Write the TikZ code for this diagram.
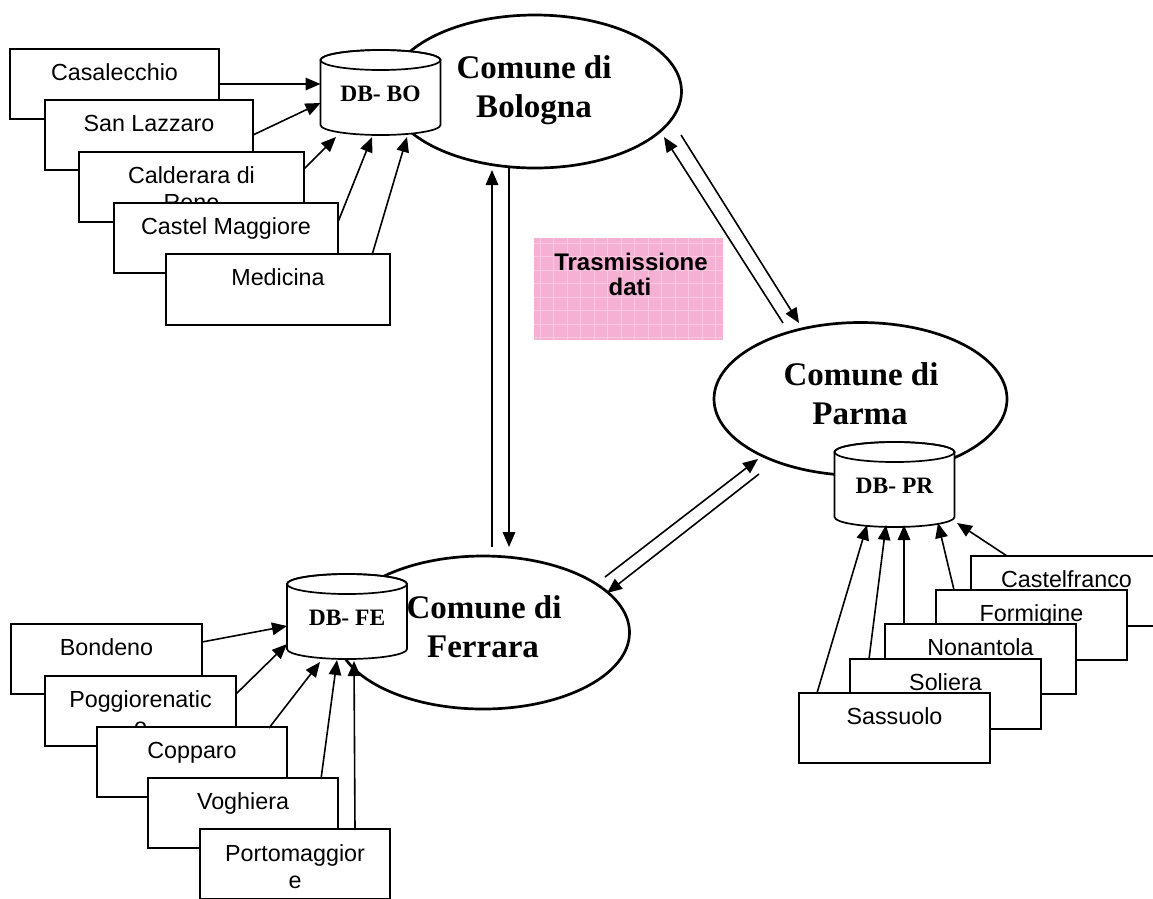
\documentclass[tikz,border=0pt]{standalone}
\usepackage{fontspec}
\setmainfont{Liberation Serif}
\setsansfont{Liberation Sans}
\usetikzlibrary{arrows.meta,calc,shapes.geometric}
\definecolor{pinkfill}{RGB}{246,176,211}
\definecolor{pinkline}{RGB}{250,200,225}
\tikzset{
  comune/.style={draw, line width=2.7pt, ellipse, minimum width=293pt, minimum height=153pt, inner sep=0pt, outer sep=0pt, fill=white},
  ctxt/.style={font=\bfseries\fontsize{33}{39}\selectfont, anchor=base, inner sep=0pt},
  dbbox/.style={minimum width=120pt, minimum height=85pt, inner sep=0pt, outer sep=0pt},
  dbline/.style={line width=1.7pt},
  dbtxt/.style={font=\bfseries\fontsize{23.5}{27}\selectfont, inner sep=0pt},
  mbox/.style={draw, fill=white, line width=1.3pt, anchor=north west, minimum height=70pt, inner sep=0pt, outer sep=0pt},
  btxt/.style={font=\sffamily\fontsize{23.3}{27}\selectfont, anchor=base, inner sep=0pt},
  arr/.style={-{Triangle[length=15pt,width=12.5pt]}, line width=1.6pt},
  trbox/.style={fill=pinkfill, anchor=north west, minimum width=189pt, minimum height=102pt, inner sep=0pt, outer sep=0pt},
  trtxt/.style={font=\sffamily\bfseries\fontsize{24}{26}\selectfont, anchor=base, inner sep=0pt},
}
\newcommand\dbcyl[3]{%
  \node[dbbox] (#1) at (#2) {};
  \path[dbline, draw, fill=white] ($(#1.north west)+(0,10)$) -- ($(#1.south west)+(0,-10)$)
     arc[start angle=180, end angle=0, x radius=60, y radius=10]
     -- ($(#1.north east)+(0,10)$)
     arc[start angle=0, end angle=-180, x radius=60, y radius=10] -- cycle;
  \draw[dbline] ($(#1.north)+(0,10)$) ellipse[x radius=60, y radius=10];
  \node[dbtxt] (#1t) at ($(#1.center)+(0,1.5)$) {#3};
}
\begin{document}
\begin{tikzpicture}[x=1pt,y=-1pt]
\useasboundingbox (0,0) rectangle (1153,898);
\clip (0,0) rectangle (1153,898);
\fill[white] (0,0) rectangle (1153,898);

% Trasmissione dati
\node[trbox] (tr) at (534,238) {};
\begin{scope}
\clip (tr.north west) rectangle (tr.south east);
\draw[pinkline, line width=0.9pt] (tr.south west) grid[step=13.5pt] (tr.north east);
\end{scope}
\node[trtxt] (tr1) at ($(tr.north)+(2.5,32)$) {Trasmissione};
\node[trtxt] (tr2) at ($(tr.north)+(1.5,57)$) {dati};

% Comuni
\node[comune] (bo) at (535,91.5) {};
\node[ctxt] (bot1) at (534,78) {Comune di};
\node[ctxt] (bot2) at (534,117) {Bologna};
\node[comune] (fe) at (483,632.5) {};
\node[ctxt] (fet1) at (484,618) {Comune di};
\node[ctxt] (fet2) at (483,657) {Ferrara};
\node[comune] (pr) at (860.5,399) {};
\node[ctxt] (prt1) at (861,385) {Comune di};
\node[ctxt] (prt2) at (860,424) {Parma};

% databases
\dbcyl{dbbo}{380.5,92.5}{DB- BO}
\dbcyl{dbfe}{347,616.5}{DB- FE}
\dbcyl{dbpr}{894.5,484.5}{DB- PR}

% Bologna boxes
\node[mbox, line width=2.3pt, minimum width=209pt] (cas) at (10,49) {};
\node[btxt] (cast) at ($(cas.north)+(0,31)$) {Casalecchio};
\node[mbox, minimum width=208pt] (sla) at (45,100) {};
\node[btxt] (slat) at ($(sla.north)+(0,31)$) {San Lazzaro};
\node[mbox, minimum width=225pt] (cal) at (79,152) {};
\node[btxt] (calt1) at ($(cal.north)+(0,31)$) {Calderara di};
\node[btxt] (calt2) at ($(cal.north)+(0,58)$) {Reno};
\node[mbox, minimum width=224pt] (cma) at (114,203) {};
\node[btxt] (cmat) at ($(cma.north)+(0,31)$) {Castel Maggiore};
\node[mbox, minimum width=224pt, minimum height=71pt] (med) at (166,254) {};
\node[btxt] (medt) at ($(med.north)+(0,31)$) {Medicina};

% Ferrara boxes
\node[mbox, minimum width=191pt] (bon) at (11,624) {};
\node[btxt] (bont) at ($(bon.north)+(0,31)$) {Bondeno};
\node[mbox, minimum width=191pt] (pog) at (45,676) {};
\node[btxt] (pogt1) at ($(pog.north)+(0,31)$) {Poggiorenatic};
\node[btxt] (pogt2) at ($(pog.north)+(0,58)$) {o};
\node[mbox, minimum width=190pt] (cop) at (97,727) {};
\node[btxt] (copt) at ($(cop.north)+(0,31)$) {Copparo};
\node[mbox, minimum width=190pt] (vog) at (148,778) {};
\node[btxt] (vogt) at ($(vog.north)+(0,31)$) {Voghiera};
\node[mbox, minimum width=190pt] (por) at (200,829) {};
\node[btxt] (port1) at ($(por.north)+(0,32)$) {Portomaggior};
\node[btxt] (port2) at ($(por.north)+(0,59)$) {e};

% Parma boxes
\node[mbox, minimum width=191pt] (cfr) at (971,556) {};
\node[btxt] (cfrt) at ($(cfr.north)+(0,31)$) {Castelfranco};
\node[mbox, minimum width=191pt] (frm) at (936,590) {};
\node[btxt] (frmt) at ($(frm.north)+(0,31)$) {Formigine};
\node[mbox, minimum width=191pt] (non) at (885,624) {};
\node[btxt] (nont) at ($(non.north)+(0,31)$) {Nonantola};
\node[mbox, minimum width=191pt] (sol) at (850,659) {};
\node[btxt] (solt) at ($(sol.north)+(0,31)$) {Soliera};
\node[mbox, minimum width=191pt] (sas) at (799,693) {};
\node[btxt] (sast) at ($(sas.north)+(0,31)$) {Sassuolo};

% arrows into DB-BO
\draw[arr] (cas.east) -- ($(dbbo.west)+(0,-8.5)$);
\draw[arr] (sla.east) -- ($(dbbo.west)+(0,10.5)$);
\draw[arr] ($(cal.north east)+(0,17)$) -- ($(dbbo.south west)+(15.5,2)$);
\draw[arr] ($(cma.north east)+(0,19)$) -- ($(dbbo.south)+(-8.5,2)$);
\draw[arr] ($(med.north east)+(-18,1)$) -- ($(dbbo.south)+(26.5,2)$);

% arrows into DB-FE
\draw[arr] ($(bon.north east)+(0,18)$) -- ($(dbfe.west)+(0,9.5)$);
\draw[arr] ($(pog.north east)+(0,18)$) -- ($(dbfe.west)+(0,27.5)$);
\draw[arr] ($(cop.north east)+(-18,1)$) -- ($(dbfe.south)+(-27,3)$);
\draw[arr] ($(vog.north east)+(-17,1)$) -- ($(dbfe.south)+(-10,1)$);
\draw[arr] ($(por.north east)+(-35,1)$) -- ($(dbfe.south)+(7,2)$);

% arrows into DB-PR
\draw[arr] ($(sas.north west)+(18,0)$) -- ($(dbpr.south)+(-27.5,-2)$);
\draw[arr] ($(sol.north west)+(19,0)$) -- ($(dbpr.south)+(-8.5,-2)$);
\draw[arr] ($(non.north west)+(19,0)$) -- ($(dbpr.south)+(9.5,-2)$);
\draw[arr] ($(frm.north west)+(18,0)$) -- ($(dbpr.south)+(43.5,-4)$);
\draw[arr] ($(cfr.north west)+(36,0)$) -- ($(dbpr.south east)+(2.5,-4)$);

% data transmission between comuni
\draw[arr] ($(fe)+(9,-85.5)$) -- ($(bo)+(-43,78.5)$);
\draw[arr] ($(bo)+(-26,76.5)$) -- ($(fe)+(26,-85.5)$);
\draw[arr] ($(pr)+(-77.5,-76)$) -- ($(bo)+(129,45.5)$);
\draw[arr] ($(bo)+(146,43.5)$) -- ($(pr)+(-61.5,-76)$);
\draw[arr] ($(fe)+(122,-55.5)$) -- ($(pr)+(-102.5,60)$);
\draw[arr] ($(pr)+(-101.5,75)$) -- ($(fe)+(124,-39.5)$);
\end{tikzpicture}
\end{document}
